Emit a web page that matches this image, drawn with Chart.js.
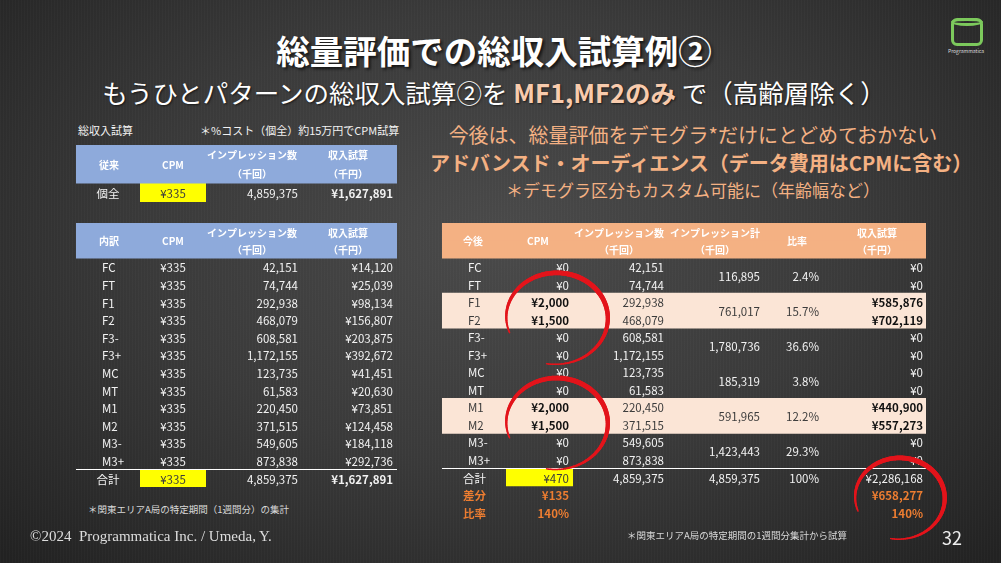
<!DOCTYPE html>
<html lang="ja">
<head>
<meta charset="utf-8">
<script src="https://cdn.jsdelivr.net/npm/chart.js@4.4.1/dist/chart.umd.min.js"></script>
<style>
  html, body { margin: 0; padding: 0; }
  body {
    width: 1001px; height: 563px; overflow: hidden; position: relative;
    background:
      repeating-linear-gradient(90deg, rgba(255,255,255,0.018) 0 1px, transparent 1px 3px),
      radial-gradient(ellipse 70% 80% at 50% 42%, #4a4a4a 0%, #3a3a3a 50%, #222 100%);
    font-family: "Noto Sans CJK JP", "Noto Sans", sans-serif;
    color: #fff;
  }
  .abs { position: absolute; white-space: nowrap; }
  .title { left: 0; width: 988px; top: 29px; text-align: center; font-size: 33.5px; font-weight: bold;
           text-shadow: 2px 2px 3px rgba(0,0,0,0.7); line-height: 42px; }
  .sub { left: 0; width: 988px; top: 74px; text-align: center; font-size: 25.5px; line-height: 36px;
         text-shadow: 1px 1px 2px rgba(0,0,0,0.6); }
  .sub b { color: #f8cbad; }
  .note { font-size: 11px; line-height: 14px; color: #f2f2f2; }
  .foot { font-size: 9.5px; line-height: 12px; color: #d8d8d8; }
  .pitch { color: #f4b183; left: 430px; width: 526px; text-align: center; }
  canvas { position: absolute; }
  .logo { left: 951px; top: 18px; width: 32px; height: 28px; border: 3px solid #7cc95c; border-radius: 6px; box-sizing: border-box; }
  .logo::before { content: ""; position: absolute; left: -3px; top: -3px; width: 32px; height: 8px;
                  border: 3px solid #7cc95c; border-radius: 50%; box-sizing: border-box; }
</style>
</head>
<body>
<div class="abs title">総量評価での総収入試算例②</div>
<div class="abs sub">もうひとパターンの総収入試算②を <b>MF1,MF2のみ</b> で（高齢層除く）</div>
<div class="abs logo"></div>
<div class="abs" style="left:948px;top:47px;font-size:5px;color:#ddd;">Programmatica</div>

<div class="abs note" style="left:78px;top:123px;">総収入試算</div>
<div class="abs note" style="left:200px;width:193px;top:123px;text-align:right;">＊%コスト（個全）約15万円でCPM試算</div>

<div class="abs pitch" style="top:121px;font-size:20px;line-height:28px;">今後は、総量評価をデモグラ*だけにとどめておかない</div>
<div class="abs pitch" style="top:149px;font-size:20px;line-height:28px;font-weight:bold;">アドバンスド・オーディエンス（データ費用はCPMに含む）</div>
<div class="abs pitch" style="top:178px;font-size:17px;line-height:24px;">＊デモグラ区分もカスタム可能に（年齢幅など）</div>

<canvas id="tableTop" width="321" height="57" style="left:76px;top:145px;"></canvas>
<canvas id="tableBreakdown" width="321" height="264" style="left:76px;top:223px;"></canvas>
<canvas id="tableFuture" width="530" height="324" style="left:430px;top:223px;"></canvas>

<div class="abs foot" style="left:88px;top:503px;">＊関東エリアA局の特定期間（1週間分）の集計</div>
<div class="abs foot" style="left:627px;top:529px;">＊関東エリアA局の特定期間の1週間分集計から試算</div>
<div class="abs" style="left:30px;top:528px;font-family:'Liberation Serif','DejaVu Serif',serif;font-size:15px;color:#ddd;">©2024&nbsp; Programmatica Inc. / Umeda, Y.</div>
<div class="abs" style="left:942px;top:524px;font-size:18px;color:#eee;">32</div>

<script>
// DATA
const segments = ['FC', 'FT', 'F1', 'F2', 'F3-', 'F3+', 'MC', 'MT', 'M1', 'M2', 'M3-', 'M3+'];
const impressions = [42151, 74744, 292938, 468079, 608581, 1172155, 123735, 61583, 220450, 371515, 549605, 873838];
const currentCpm = [335, 335, 335, 335, 335, 335, 335, 335, 335, 335, 335, 335];
const currentRevenue = [14120, 25039, 98134, 156807, 203875, 392672, 41451, 20630, 73851, 124458, 184118, 292736];
const currentTotals = [335, 4859375, 1627891];          // CPM, impressions, revenue
const futureCpm = [0, 0, 2000, 1500, 0, 0, 0, 0, 2000, 1500, 0, 0];
const futureRevenue = [0, 0, 585876, 702119, 0, 0, 0, 0, 440900, 557273, 0, 0];
const pairSums = [116895, 761017, 1780736, 185319, 591965, 1423443];
const pairShares = ['2.4%', '15.7%', '36.6%', '3.8%', '12.2%', '29.3%'];
const futureTotals = [470, 4859375, 4859375, '100%', 2286168];
const diffRow = [135, 658277];
const ratioRow = ['140%', '140%'];
const targeted = ['F1', 'F2', 'M1', 'M2'];

// LOOK
const THEME = {
  font: '"Noto Sans CJK JP", "Noto Sans", sans-serif',
  text: '#f2f2f2',
  dark: '#3c3c3c',
  blue: '#8eaadb',
  orange: '#f4b183',
  pink: '#fbe5d6',
  yellow: '#ffff00',
  accent: '#ed7d31',
  red: '#e3141b'
};
const LEFT = { x0: 76, x1: 397, label: 102, mid: 108, cpm: 173, imp: 298, rev: 393, yellow: [140, 206],
               heads: [109, 173, 252, 348] };
const RIGHT = { x0: 442, x1: 926, label: 468, total: 463, cpm: 569, imp: 664, sum: 760, share: 819, rev: 923,
                yellow: [506, 573], heads: [473, 538, 619, 715, 797, 877] };

const yen = v => '¥' + v.toLocaleString('en-US');
const num = v => v.toLocaleString('en-US');

// text / rules / circles drawn on top of the floating-bar cell fills
const tableText = {
  id: 'tableText',
  afterDatasetsDraw(chart, args, opts) {
    const { ctx, scales: { x, y } } = chart;
    const labels = chart.data.labels;
    const rowY = r => Array.isArray(r)
      ? (y.getPixelForValue(labels.indexOf(r[0])) + y.getPixelForValue(labels.indexOf(r[1]))) / 2
      : y.getPixelForValue(labels.indexOf(r));
    ctx.save();
    (opts.rules || []).forEach(rule => {
      const yy = Math.round(rowY([rule.between[0], rule.between[1]])) + 0.5;
      ctx.strokeStyle = '#ffffff';
      ctx.lineWidth = 1.2;
      ctx.beginPath();
      ctx.moveTo(x.getPixelForValue(rule.from), yy);
      ctx.lineTo(x.getPixelForValue(rule.to), yy);
      ctx.stroke();
    });
    ctx.textBaseline = 'middle';
    (opts.cells || []).forEach(c => {
      ctx.font = `${c.bold ? 'bold ' : ''}${c.size || 11.5}px ${THEME.font}`;
      ctx.fillStyle = c.color || THEME.text;
      ctx.textAlign = c.align || 'right';
      ctx.fillText(c.text, x.getPixelForValue(c.x), rowY(c.row) + 1);
    });
    // hand-drawn red loops
    (opts.loops || []).forEach(l => {
      const cx = x.getPixelForValue(l.x);
      const cy = rowY(l.row) + l.dy;
      ctx.strokeStyle = THEME.red;
      ctx.lineCap = 'round';
      ctx.lineJoin = 'round';
      const a0 = 160 * Math.PI / 180, a1 = 462 * Math.PI / 180;
      let prev = null;
      for (let a = a0; a <= a1; a += 0.04) {
        const t = (a - a0) / (a1 - a0);
        const g = 0.97 + 0.07 * t;
        const p = [cx + l.rx * g * Math.cos(a), cy + l.ry * g * Math.sin(a)];
        if (prev) {
          ctx.lineWidth = 1.5 + 3.5 * Math.sin(Math.PI * Math.min(1, t * 1.05));
          ctx.beginPath();
          ctx.moveTo(prev[0], prev[1]);
          ctx.lineTo(p[0], p[1]);
          ctx.stroke();
        }
        prev = p;
      }
    });
    ctx.restore();
  }
};

function fillSet(rows, fillRows, span, color) {
  return {
    data: rows.map(r => fillRows.includes(r) ? span : null),
    backgroundColor: color,
    borderWidth: 0,
    grouped: false,
    categoryPercentage: 1,
    barPercentage: 1.04
  };
}

function makeTable(id, rows, range, padding, fills, plugin) {
  return new Chart(document.getElementById(id), {
    type: 'bar',
    data: { labels: rows, datasets: fills },
    options: {
      indexAxis: 'y',
      responsive: false,
      animation: false,
      events: [],
      layout: { padding },
      scales: {
        x: { type: 'linear', min: range[0], max: range[1], display: false },
        y: { type: 'category', display: false, offset: true }
      },
      plugins: { legend: { display: false }, tooltip: { enabled: false }, tableText: plugin }
    },
    plugins: [tableText]
  });
}

function headCells(heads, titles) {
  const out = [];
  titles.forEach((t, i) => {
    const h = { x: heads[i], align: 'center', bold: true, size: 10, color: '#ffffff' };
    if (Array.isArray(t)) {
      out.push({ ...h, row: 'h1', text: t[0] }, { ...h, row: 'h2', text: t[1] });
    } else {
      out.push({ ...h, row: ['h1', 'h2'], text: t });
    }
  });
  return out;
}
const impHead = ['インプレッション数', '（千回）'];
const revHead = ['収入試算', '（千円）'];

// TABLE 1: current single package
{
  const rows = ['h1', 'h2', '個全'];
  const cells = headCells(LEFT.heads, ['従来', 'CPM', impHead, revHead]).concat([
    { row: '個全', x: LEFT.mid, text: '個全', align: 'center' },
    { row: '個全', x: LEFT.cpm, text: yen(currentTotals[0]), align: 'center', color: THEME.dark },
    { row: '個全', x: LEFT.imp, text: num(currentTotals[1]) },
    { row: '個全', x: LEFT.rev, text: yen(currentTotals[2]), bold: true }
  ]);
  makeTable('tableTop', rows, [LEFT.x0, LEFT.x1], 0, [
    fillSet(rows, ['h1', 'h2'], [LEFT.x0, LEFT.x1], THEME.blue),
    fillSet(rows, ['個全'], LEFT.yellow, THEME.yellow)
  ], { cells });
}

// TABLE 2: current breakdown
{
  const rows = ['h1', 'h2', ...segments, '合計'];
  const cells = headCells(LEFT.heads, ['内訳', 'CPM', impHead, revHead]);
  segments.forEach((s, i) => {
    cells.push(
      { row: s, x: LEFT.label, text: s, align: 'left' },
      { row: s, x: LEFT.cpm, text: yen(currentCpm[i]), align: 'center' },
      { row: s, x: LEFT.imp, text: num(impressions[i]) },
      { row: s, x: LEFT.rev, text: yen(currentRevenue[i]) }
    );
  });
  cells.push(
    { row: '合計', x: LEFT.mid, text: '合計', align: 'center' },
    { row: '合計', x: LEFT.cpm, text: yen(currentTotals[0]), align: 'center', color: THEME.dark },
    { row: '合計', x: LEFT.imp, text: num(currentTotals[1]) },
    { row: '合計', x: LEFT.rev, text: yen(currentTotals[2]), bold: true }
  );
  makeTable('tableBreakdown', rows, [LEFT.x0, LEFT.x1], 0, [
    fillSet(rows, ['h1', 'h2'], [LEFT.x0, LEFT.x1], THEME.blue),
    fillSet(rows, ['合計'], LEFT.yellow, THEME.yellow)
  ], { cells, rules: [{ between: ['M3+', '合計'], from: LEFT.x0, to: LEFT.x1 }] });
}

// TABLE 3: future (MF1, MF2 only)
{
  const rows = ['h1', 'h2', ...segments, '合計', '差分', '比率'];
  const cells = headCells(RIGHT.heads, ['今後', 'CPM', impHead, ['インプレッション計', '（千回）'], '比率', revHead]);
  segments.forEach((s, i) => {
    const on = targeted.includes(s);
    const c = on ? THEME.dark : THEME.text;
    cells.push(
      { row: s, x: RIGHT.label, text: s, align: 'left', color: c },
      { row: s, x: RIGHT.cpm, text: yen(futureCpm[i]), color: on ? '#111' : c, bold: on },
      { row: s, x: RIGHT.imp, text: num(impressions[i]), color: c },
      { row: s, x: RIGHT.rev, text: yen(futureRevenue[i]), color: on ? '#111' : c, bold: on }
    );
  });
  pairSums.forEach((v, k) => {
    const pair = [segments[2 * k], segments[2 * k + 1]];
    const c = targeted.includes(pair[0]) ? THEME.dark : THEME.text;
    cells.push(
      { row: pair, x: RIGHT.sum, text: num(v), color: c },
      { row: pair, x: RIGHT.share, text: pairShares[k], color: c }
    );
  });
  cells.push(
    { row: '合計', x: RIGHT.total, text: '合計', align: 'left' },
    { row: '合計', x: RIGHT.cpm, text: yen(futureTotals[0]), color: THEME.dark },
    { row: '合計', x: RIGHT.imp, text: num(futureTotals[1]) },
    { row: '合計', x: RIGHT.sum, text: num(futureTotals[2]) },
    { row: '合計', x: RIGHT.share, text: futureTotals[3] },
    { row: '合計', x: RIGHT.rev, text: yen(futureTotals[4]) },
    { row: '差分', x: RIGHT.total, text: '差分', align: 'left', color: THEME.accent, bold: true },
    { row: '差分', x: RIGHT.cpm, text: yen(diffRow[0]), color: THEME.accent, bold: true },
    { row: '差分', x: RIGHT.rev, text: yen(diffRow[1]), color: THEME.accent, bold: true },
    { row: '比率', x: RIGHT.total, text: '比率', align: 'left', color: THEME.accent, bold: true },
    { row: '比率', x: RIGHT.cpm, text: ratioRow[0], color: THEME.accent, bold: true },
    { row: '比率', x: RIGHT.rev, text: ratioRow[1], color: THEME.accent, bold: true }
  );
  makeTable('tableFuture', rows, [RIGHT.x0, RIGHT.x1], { left: 12, right: 34, top: 0, bottom: 26 }, [
    fillSet(rows, ['h1', 'h2'], [RIGHT.x0, RIGHT.x1], THEME.orange),
    fillSet(rows, targeted, [RIGHT.x0, RIGHT.x1], THEME.pink),
    fillSet(rows, ['合計'], RIGHT.yellow, THEME.yellow)
  ], {
    cells,
    rules: [{ between: ['M3+', '合計'], from: RIGHT.x0, to: RIGHT.x1 }],
    loops: [
      { row: ['F1', 'F2'], x: 556, dy: 7, rx: 51, ry: 45 },
      { row: ['M1', 'M2'], x: 556, dy: 7, rx: 51, ry: 45 },
      { row: '差分', x: 899, dy: 3, rx: 45, ry: 40 }
    ]
  });
}
</script>
</body>
</html>
